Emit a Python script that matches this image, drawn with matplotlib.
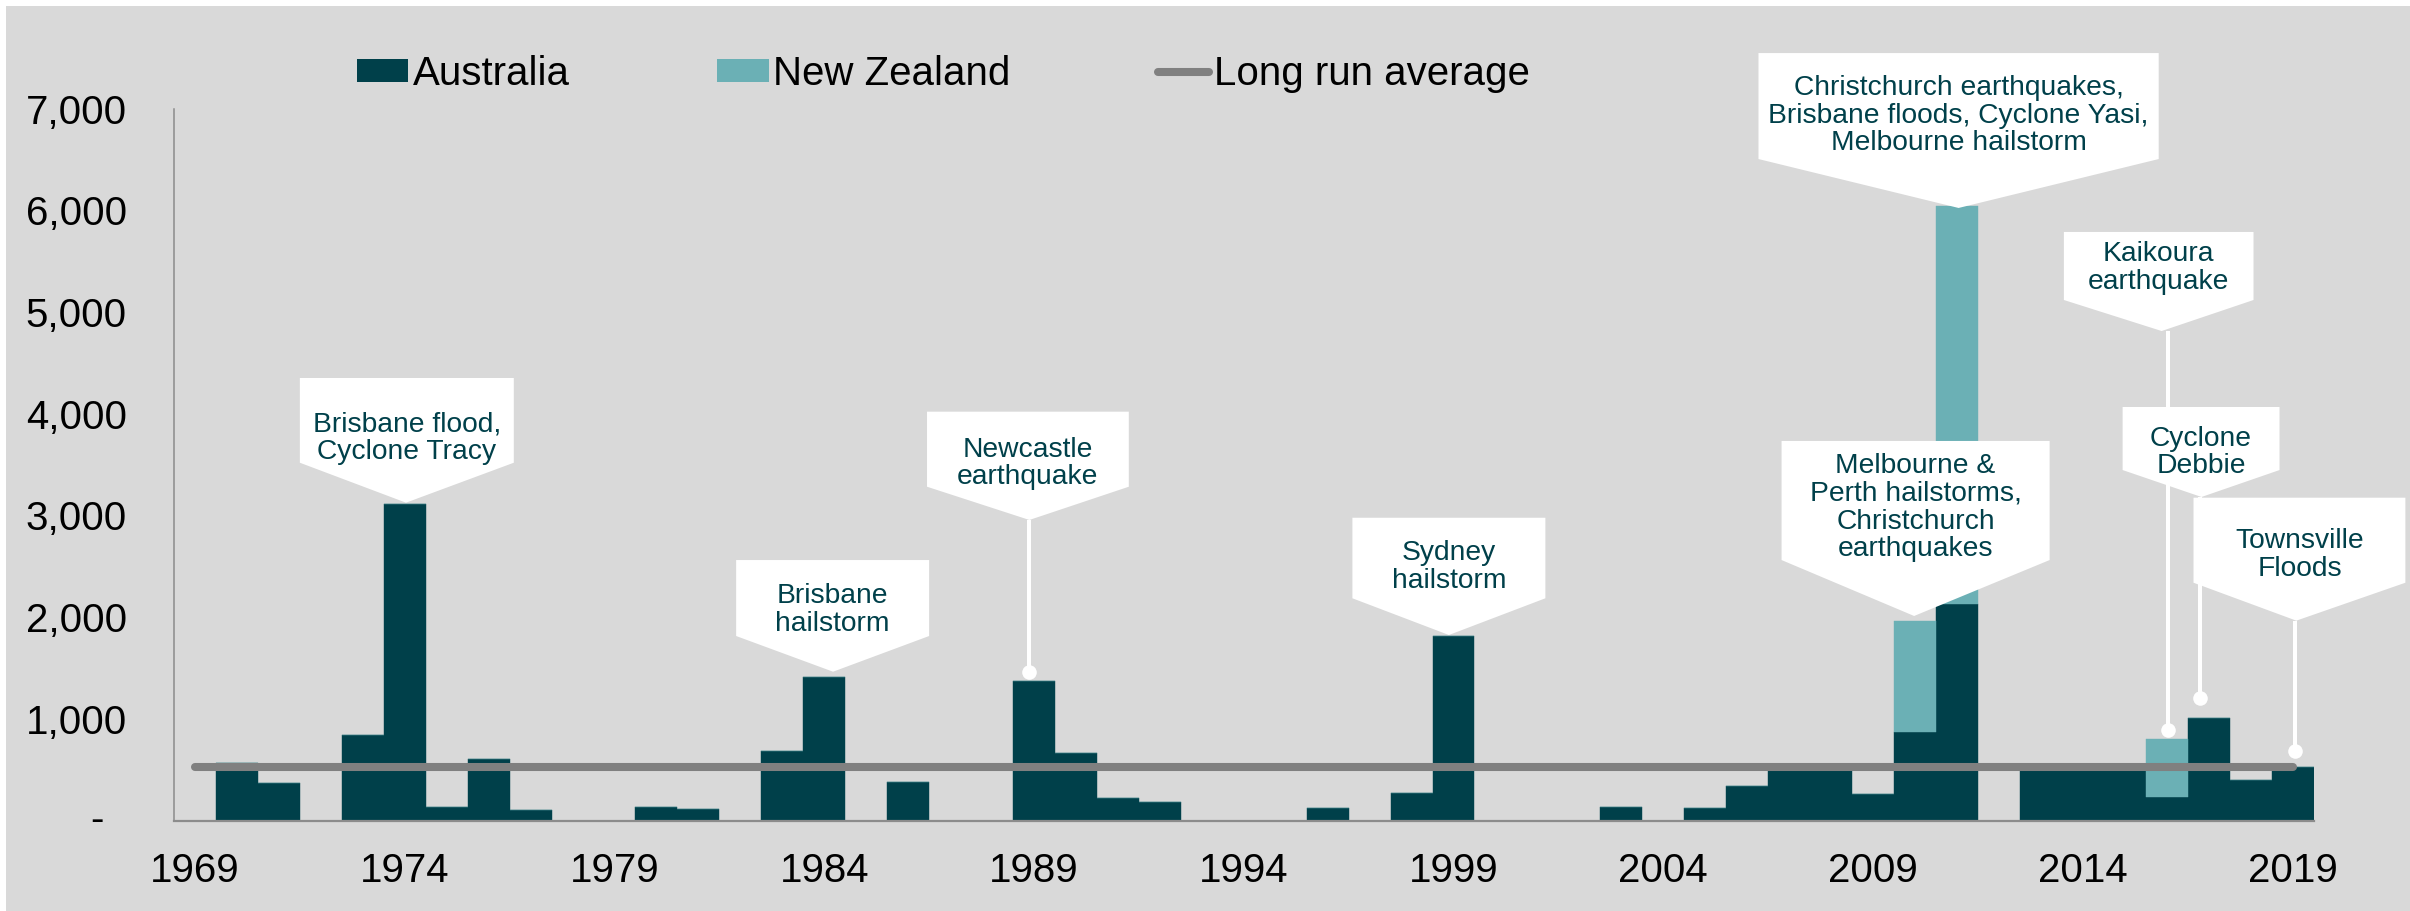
import matplotlib
matplotlib.use('Agg')
import matplotlib.pyplot as plt
from matplotlib.patches import Polygon, Patch, Rectangle
from matplotlib.lines import Line2D
import numpy as np

plt.rcParams['font.family'] = ['Liberation Sans', 'DejaVu Sans']

# ---------------- data ----------------
years = list(range(1969, 2020))
australia = [
    0, 562, 365, 0, 840, 3115, 135, 605, 100, 0,      # 1969-1978
    0, 130, 112, 0, 685, 1415, 0, 382, 0, 0,          # 1979-1988
    1373, 660, 220, 184, 0, 0, 0, 120, 0, 272,        # 1989-1998
    1817, 0, 0, 0, 135, 0, 123, 336, 535, 540,        # 1999-2008
    264, 866, 2130, 0, 535, 540, 530, 228, 1005, 395, # 2009-2018
    529,                                              # 2019
]
new_zealand = [0] * len(years)
new_zealand[years.index(2010)] = 1100
new_zealand[years.index(2011)] = 3910
new_zealand[years.index(2016)] = 574
long_run_average = 525

tick_years = list(range(1969, 2020, 5))
y_ticks = [1000, 2000, 3000, 4000, 5000, 6000, 7000]

# ---------------- callouts ----------------
callout_texts = [
    "Brisbane flood,\nCyclone Tracy",
    "Brisbane\nhailstorm",
    "Newcastle\nearthquake",
    "Sydney\nhailstorm",
    "Melbourne &\nPerth hailstorms,\nChristchurch\nearthquakes",
    "Christchurch earthquakes,\nBrisbane floods, Cyclone Yasi,\nMelbourne hailstorm",
    "Kaikoura\nearthquake",
    "Cyclone\nDebbie",
    "Townsville\nFloods",
]
callout_left = [1971.50, 1981.90, 1986.45, 1996.59, 2006.82, 2006.27, 2013.55, 2014.95, 2016.64]
callout_right = [1976.60, 1986.50, 1991.26, 2001.19, 2013.21, 2015.81, 2018.07, 2018.69, 2021.69]
callout_top = [4351, 2561, 4020, 2977, 3732, 7546, 5787, 4066, 3174]
callout_bottom = [3518, 1814, 3282, 2185, 2561, 6504, 5118, 3446, 2338]
callout_tip_x = [1974.03, 1984.21, 1988.89, 1998.89, 2009.98, 2011.04, 2015.88, 2016.83, 2019.09]
callout_tip_y = [3125, 1463, 2955, 1824, 2011, 6023, 4813, 3181, 1965]
callout_text_y = [3760, 2070, 3510, 2495, 3075, 6930, 5430, 3620, 2610]
callout_dot_x = [None, None, 1988.89, None, None, None, 2016.02, 2016.80, 2019.05]
callout_dot_y = [None, None, 1460, None, None, None, 890, 1205, 686]

# ---------------- styling ----------------
AUS = '#00404A'
NZ = '#6BB0B5'
AVG = '#808080'
BG = '#D9D9D9'
TXT = '#00404A'
FS = 29

W, H = 2410, 911
fig = plt.figure(figsize=(W / 100, H / 100), dpi=100, facecolor='white')
fig.patches.append(Rectangle((6 / W, 0), 1 - 6 / W, 1 - 6 / H, transform=fig.transFigure,
                             facecolor=BG, edgecolor='none', zorder=-10))

ax = fig.add_axes([174 / W, 1 - 820.5 / H, (2313.5 - 174) / W, (820.5 - 108.6) / H])
ax.set_facecolor('none')

x = np.array(years)
aus = np.array(australia)
nz = np.array(new_zealand)
ax.bar(x, aus, width=1.0, color=AUS, edgecolor=AUS, linewidth=0.3, zorder=2)
ax.bar(x, nz, width=1.0, bottom=aus, color=NZ, edgecolor=NZ, linewidth=0.3, zorder=2)
ax.plot([years[0], years[-1]], [long_run_average, long_run_average], color=AVG, lw=5.8,
        solid_capstyle='round', zorder=3)

ax.set_xlim(1968.5, 2019.5)
ax.set_ylim(0, 7000)
ax.set_xticks(tick_years)
ax.set_xticklabels([str(t) for t in tick_years])
ax.set_yticks(y_ticks)
ax.set_yticklabels([f"{v:,}" for v in y_ticks])
ax.tick_params(axis='both', length=0, labelsize=FS, colors='black')
ax.tick_params(axis='y', pad=34)
ax.tick_params(axis='x', pad=22.5)
ax.annotate("-", xy=(0, 0), xycoords=('axes fraction', 'data'), xytext=(-51, 0),
            textcoords='offset points', ha='right', va='center', fontsize=FS)

for s in ['top', 'right']:
    ax.spines[s].set_visible(False)
ax.spines['left'].set_color('#8C8C8C')
ax.spines['left'].set_linewidth(1.1)
ax.spines['bottom'].set_color('#8C8C8C')
ax.spines['bottom'].set_linewidth(1.6)

# callouts
for i, txt in enumerate(callout_texts):
    l, r = callout_left[i], callout_right[i]
    t, b = callout_top[i], callout_bottom[i]
    tx, ty = callout_tip_x[i], callout_tip_y[i]
    poly = Polygon([(l, t), (r, t), (r, b), (tx, ty), (l, b)], closed=True,
                   facecolor='white', edgecolor='none', clip_on=False, zorder=5)
    ax.add_patch(poly)
    ax.text((l + r) / 2, callout_text_y[i], txt, ha='center', va='center', fontsize=20.3,
            color=TXT, linespacing=1.08, zorder=6, clip_on=False)
    if callout_dot_x[i] is not None:
        ax.plot([callout_dot_x[i], callout_dot_x[i]], [ty, callout_dot_y[i]], color='white',
                lw=2.9, zorder=4, solid_capstyle='butt')
        ax.plot([callout_dot_x[i]], [callout_dot_y[i]], marker='o', markersize=10.5,
                color='white', markeredgewidth=0, zorder=4)

# legend
handles = [
    Patch(facecolor=AUS, edgecolor='none', label='Australia'),
    Patch(facecolor=NZ, edgecolor='none', label='New Zealand'),
    Line2D([0], [0], color=AVG, lw=5.8, solid_capstyle='round', label='Long run average'),
]
fig.legend(handles=handles, loc='center left', bbox_to_anchor=(357 / W, 1 - 74 / H),
           ncol=3, frameon=False, fontsize=FS, borderpad=0, borderaxespad=0,
           handlelength=1.27, handleheight=0.5, handletextpad=0.12, columnspacing=3.66)

fig.savefig('out.png', dpi=100, facecolor='white')
